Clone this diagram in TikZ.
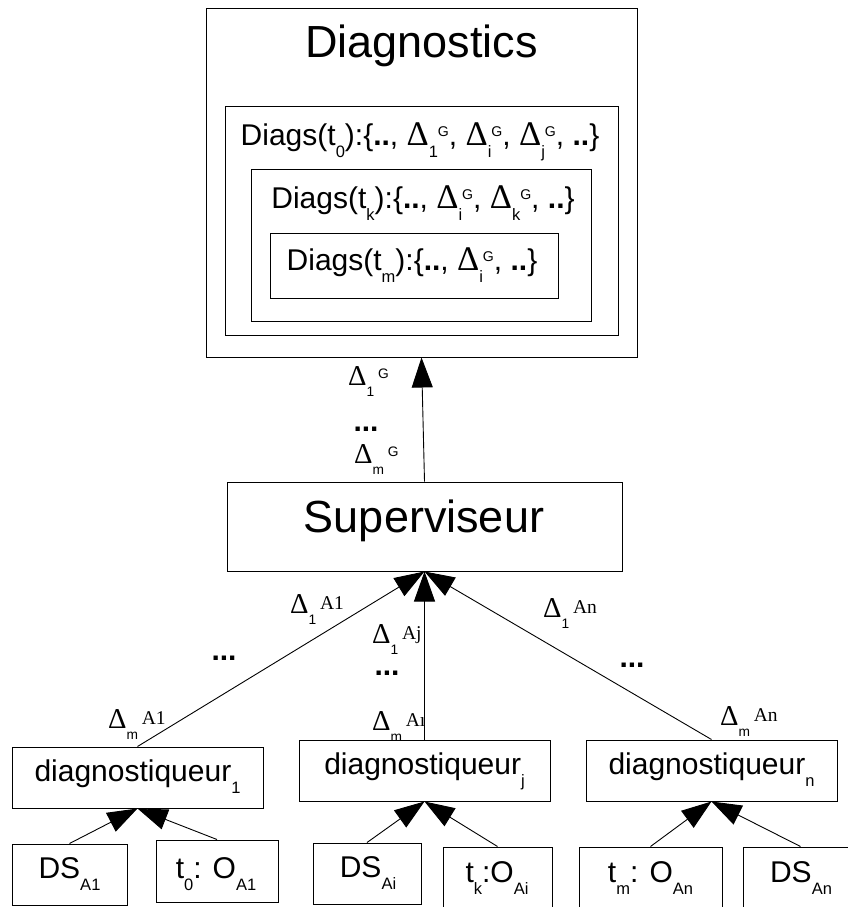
\documentclass[tikz,border=0pt]{standalone}
\usepackage{graphicx}
\usepackage{fontspec}
\setmainfont{Liberation Sans}
\newfontfamily\seriffam{Liberation Serif}
\usetikzlibrary{arrows.meta}
\newcommand{\Dlt}{{\seriffam\scalebox{1.15}{Δ}}}
\newcommand{\dn}[1]{\raisebox{-.42em}{\scalebox{.55}{#1}}}
\newcommand{\up}[1]{\raisebox{.28em}{\scalebox{.47}{#1}}}
\newcommand{\edn}[1]{\raisebox{-.45em}{\scalebox{.55}{#1}}}
\newcommand{\eup}[1]{\hspace{.15em}\raisebox{.14em}{\scalebox{.78}{\seriffam #1}}}
\newcommand{\egup}[1]{\hspace{.15em}\raisebox{.28em}{\scalebox{.55}{#1}}}
\newcommand{\bd}[1]{\textbf{#1}}
\tikzset{
  box/.style={draw, line width=1pt, inner sep=0pt, rectangle},
  arr/.style={line width=0.9pt, -{Triangle[length=30pt,width=21pt]}},
  big/.style={anchor=base, inner sep=0pt, font=\fontsize{45}{50}\selectfont},
  mid/.style={anchor=base, inner sep=0pt, font=\fontsize{30}{35}\selectfont},
  sm/.style={anchor=base, inner sep=0pt, font=\fontsize{30}{34}\selectfont},
  lab/.style={anchor=base west, inner sep=0pt, font=\fontsize{25}{30}\selectfont},
  dots/.style={anchor=base, inner sep=0pt, text height=5pt, text depth=0pt, font=\fontsize{30}{34}\selectfont\bfseries}
}
\begin{document}
\begin{tikzpicture}[x=1pt,y=-1pt]
\useasboundingbox (0,0) rectangle (848,907);
% Diagnostics boxes
\node[box, minimum width=431pt, minimum height=348pt] (outer) at (421.5,183) {};
\node[box, minimum width=393pt, minimum height=229pt] (d0) at (421.5,220.5) {};
\node[box, minimum width=340pt, minimum height=152pt] (dk) at (421,245) {};
\node[box, minimum width=288pt, minimum height=65pt] (dm) at (414,265.5) {};
\node[big] (tdiag) at (421.5,57) {Diagnostics};
\node[mid] (td0) at (420,145) {Diags(t\dn{0}):\{\bd{..}, \Dlt\dn{1}\up{G}, \Dlt\dn{i}\up{G}, \Dlt\dn{j}\up{G}, \bd{..}\}};
\node[mid] (tdk) at (423,208) {Diags(t\dn{k}):\{\bd{..}, \Dlt\dn{i}\up{G}, \Dlt\dn{k}\up{G}, \bd{..}\}};
\node[mid] (tdm) at (412,270) {Diags(t\dn{m}):\{\bd{..}, \Dlt\dn{i}\up{G}, \bd{..}\}};
% Superviseur
\node[box, minimum width=395pt, minimum height=89pt] (sup) at (424.5,526.5) {};
\node[big] (tsup) at (424,532) {Superviseur};
% diagnostiqueurs
\node[box, minimum width=251pt, minimum height=61pt] (g1) at (137.5,777.5) {};
\node[box, minimum width=251pt, minimum height=61pt] (gj) at (424.5,770.5) {};
\node[box, minimum width=251pt, minimum height=61pt] (gn) at (711.5,770.5) {};
\node[sm] (tg1) at (137.5,781) {diagnostiqueur\dn{1}};
\node[sm] (tgj) at (424.5,774) {diagnostiqueur\dn{j}};
\node[sm] (tgn) at (711.5,774) {diagnostiqueur\dn{n}};
% sources
\node[box, minimum width=115pt, minimum height=61pt] (ds1) at (69.5,874.5) {};
\node[box, minimum width=122pt, minimum height=62pt] (o1) at (217,871) {};
\node[box, minimum width=108pt, minimum height=61pt] (dsi) at (367,873.5) {};
\node[box, minimum width=109pt, minimum height=62pt] (ok) at (497.5,878) {};
\node[box, minimum width=143pt, minimum height=62pt] (om) at (650.5,878) {};
\node[box, minimum width=115pt, minimum height=62pt] (dsn) at (800.5,878) {};
\node[sm] (tds1) at (69.5,878) {DS\dn{A1}};
\node[sm] (to1) at (216,878) {t\dn{0}: O\dn{A1}};
\node[sm] (tdsi) at (368,877) {DS\dn{Ai}};
\node[sm] (tok) at (497,882) {t\dn{k}:O\dn{Ai}};
\node[sm] (tom) at (650.5,882) {t\dn{m}: O\dn{An}};
\node[sm] (tdsn) at (801,882) {DS\dn{An}};
% arrows
\draw[arr] (sup.north) -- (outer.south);
\draw[arr] (g1.north) -- (sup.south);
\draw[arr] (gj.north) -- (sup.south);
\draw[arr] (gn.north) -- (sup.south);
\draw[arr] (ds1.north) -- (g1.south);
\draw[arr] (o1.north) -- (g1.south);
\draw[arr] (dsi.north) -- (gj.south);
\draw[arr] (ok.north) -- (gj.south);
\draw[arr] (om.north) -- (gn.south);
\draw[arr] (dsn.north) -- (gn.south);
% labels
\node[lab] (lg1) at (348,385) {\Dlt\edn{1}\egup{G}};
\node[dots] (lgd) at (366,431) {...};
\node[lab] (lgm) at (354,463) {\Dlt\edn{m}\egup{G}};
\node[lab] (l1a) at (290,613) {\Dlt\edn{1}\eup{A1}};
\node[dots] (l1d) at (224,660) {...};
\node[lab] (l1b) at (108,728) {\Dlt\edn{m}\eup{A1}};
\node[lab] (lja) at (372,643) {\Dlt\edn{1}\eup{Aj}};
\node[dots] (ljd) at (387,675) {...};
\node[lab] (ljb) at (372,730) {\Dlt\edn{m}\eup{A\i}};
\node[lab] (lna) at (543,617) {\Dlt\edn{1}\eup{An}};
\node[dots] (lnd) at (632,667) {...};
\node[lab] (lnb) at (720,725) {\Dlt\edn{m}\eup{An}};
\end{tikzpicture}
\end{document}
